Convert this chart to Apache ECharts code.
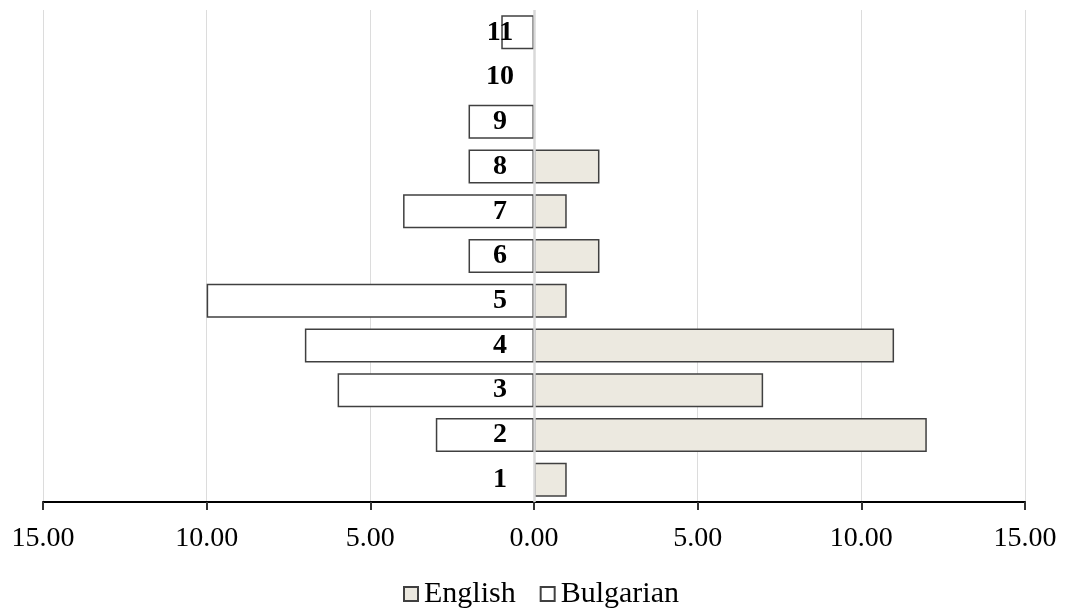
<!DOCTYPE html>
<html>
<head>
<meta charset="utf-8">
<script src="https://cdn.jsdelivr.net/npm/echarts@6/dist/echarts.min.js"></script>
<style>
html,body{margin:0;padding:0;background:#fff;}
#chart{width:1065px;height:609px;}
</style>
</head>
<body>
<div id="chart"></div>
<script>
var categories = ['1','2','3','4','5','6','7','8','9','10','11'];
var englishValues = [1, 12, 7, 11, 1, 2, 1, 2, 0, 0, 0];
var bulgarianValues = [0, 3, 6, 7, 10, 2, 4, 2, 2, 0, 1];
var xTicks = { min: -15, max: 15, interval: 5 };

var serif = '"Liberation Serif", "DejaVu Serif", serif';
var chart = echarts.init(document.getElementById('chart'));
chart.setOption({
  animation: false,
  backgroundColor: '#fff',
  grid: { left: 43, right: 40, top: 10, bottom: 107, containLabel: false, outerBoundsMode: 'none' },
  legend: {
    top: 574,
    left: 398,
    itemWidth: 14,
    itemHeight: 14,
    itemGap: 24,
    icon: 'rect',
    textStyle: { fontFamily: serif, fontSize: 30, color: '#000', padding: [0, 0, 0, 1] },
    data: ['English', 'Bulgarian']
  },
  xAxis: {
    type: 'value',
    min: xTicks.min, max: xTicks.max, interval: xTicks.interval,
    axisLine: { show: true, onZero: false, lineStyle: { color: '#000', width: 2 } },
    axisTick: { show: true, length: 8, lineStyle: { color: '#333', width: 2 } },
    splitLine: { show: true, lineStyle: { color: '#dcdcdc', width: 1 } },
    axisLabel: {
      fontFamily: serif, fontSize: 28, color: '#000', margin: 23,
      formatter: function (v) { return Math.abs(v).toFixed(2); }
    }
  },
  yAxis: {
    type: 'category',
    data: categories,
    axisLine: { show: false },
    axisTick: { show: false },
    axisLabel: { show: false }
  },
  series: [
    {
      name: 'English', type: 'bar', barWidth: '76%', barGap: '-100%',
      itemStyle: { color: '#ece9e0', borderColor: '#404040', borderWidth: 1.5 },
      data: englishValues.map(function (v) { return v === 0 ? '-' : v; })
    },
    {
      name: 'Bulgarian', type: 'bar', barWidth: '76%', barGap: '-100%',
      itemStyle: { color: '#ffffff', borderColor: '#404040', borderWidth: 1.5 },
      data: bulgarianValues.map(function (v) { return v === 0 ? '-' : -v; })
    },
    {
      name: 'categoryLabels', type: 'bar', barWidth: '76%', barGap: '-100%',
      silent: true, z: 10,
      itemStyle: { color: 'transparent', borderWidth: 0 },
      label: {
        show: true, position: [-34, '50%'], align: 'center', verticalAlign: 'middle',
        fontFamily: serif, fontSize: 28, fontWeight: 'bold', color: '#000',
        formatter: function (p) { return p.name; }
      },
      markLine: {
        silent: true, symbol: 'none', label: { show: false },
        lineStyle: { color: '#d9d9d9', width: 2.5, type: 'solid' },
        data: [{ xAxis: 0 }]
      },
      data: categories.map(function () { return 0; })
    }
  ]
});
</script>
</body>
</html>
